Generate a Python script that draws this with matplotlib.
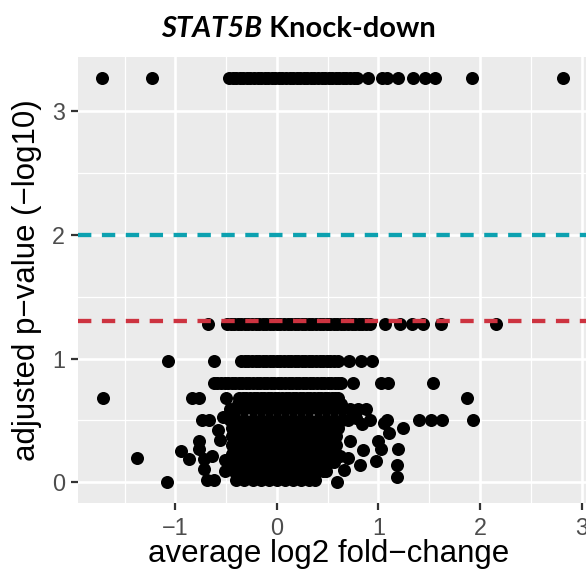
import numpy as np
import matplotlib
matplotlib.use("Agg")
import matplotlib.pyplot as plt

# genes that share an adjusted p-value (-log10) level, listed row by row
row_p = [3.27, 1.28, 0.98, 0.80, 0.68, 0.63, 0.59, 0.50, 0.44, 0.37, 0.30, 0.23, 0.16, 0.09, 0.02]
row_fc = [
    [-1.72, -1.23, -0.47, -0.435, -0.40, -0.365, -0.33, -0.295, -0.26, -0.225, -0.19, -0.155,
     -0.12, -0.085, -0.05, -0.015, 0.02, 0.055, 0.09, 0.125, 0.16, 0.195, 0.23, 0.265, 0.30,
     0.335, 0.37, 0.405, 0.44, 0.475, 0.51, 0.545, 0.58, 0.615, 0.65, 0.685, 0.72, 0.755, 0.79,
     0.90, 1.03, 1.08, 1.19, 1.34, 1.46, 1.56, 1.92, 2.82],
    [-0.675, -0.49, -0.455, -0.42, -0.385, -0.35, -0.315, -0.28, -0.245, -0.21, -0.175, -0.14,
     -0.105, -0.07, -0.035, 0.00, 0.035, 0.07, 0.105, 0.14, 0.175, 0.21, 0.245, 0.28, 0.315,
     0.35, 0.385, 0.42, 0.455, 0.49, 0.525, 0.56, 0.595, 0.63, 0.665, 0.70, 0.735, 0.77, 0.805,
     0.84, 0.88, 0.92, 1.06, 1.21, 1.33, 1.44, 1.62, 2.16],
    [-1.07, -0.62, -0.35, -0.315, -0.28, -0.245, -0.21, -0.175, -0.14, -0.105, -0.07, -0.035,
     0.00, 0.035, 0.07, 0.105, 0.14, 0.175, 0.21, 0.245, 0.28, 0.315, 0.35, 0.385, 0.42, 0.455,
     0.49, 0.525, 0.56, 0.60, 0.71, 0.83, 0.94],
    [-0.62, -0.585, -0.55, -0.515, -0.48, -0.445, -0.41, -0.375, -0.34, -0.305, -0.27, -0.235,
     -0.20, -0.165, -0.13, -0.095, -0.06, -0.025, 0.01, 0.045, 0.08, 0.115, 0.15, 0.185, 0.22,
     0.255, 0.29, 0.325, 0.36, 0.395, 0.43, 0.465, 0.50, 0.535, 0.57, 0.60, 0.63, 0.75, 1.02,
     1.09, 1.54],
    [-1.71, -0.84, -0.77, -0.50, -0.37, -0.335, -0.30, -0.265, -0.23, -0.195, -0.16, -0.125,
     -0.09, -0.055, -0.02, 0.015, 0.05, 0.085, 0.12, 0.155, 0.19, 0.225, 0.26, 0.295, 0.33,
     0.365, 0.40, 0.435, 0.47, 0.505, 0.54, 0.57, 0.60, 1.87],
    [-0.38, -0.30, -0.22, -0.14, -0.06, 0.02, 0.10, 0.18, 0.26, 0.34, 0.42, 0.50, 0.58, 0.63],
    [-0.46, -0.40, -0.32, -0.24, -0.16, -0.08, 0.00, 0.08, 0.16, 0.24, 0.32, 0.40, 0.48, 0.56,
     0.64, 0.72, 0.80, 0.88],
    [-0.74, -0.67, -0.46, -0.40, -0.32, -0.24, -0.16, -0.08, 0.00, 0.08, 0.16, 0.24, 0.32, 0.40,
     0.48, 0.56, 0.64, 0.92, 1.08, 1.40, 1.52, 1.63, 1.93],
    [-0.44, -0.36, -0.28, -0.20, -0.12, -0.04, 0.04, 0.12, 0.20, 0.28, 0.36, 0.44, 0.52, 0.60],
    [-0.44, -0.36, -0.28, -0.20, -0.12, -0.04, 0.04, 0.12, 0.20, 0.28, 0.36, 0.44, 0.52, 0.58],
    [-0.44, -0.36, -0.28, -0.20, -0.12, -0.04, 0.04, 0.12, 0.20, 0.28, 0.36, 0.44, 0.52, 0.58],
    [-0.44, -0.36, -0.28, -0.20, -0.12, -0.04, 0.04, 0.12, 0.20, 0.28, 0.36, 0.44, 0.52, 0.58],
    [-0.43, -0.35, -0.27, -0.19, -0.11, -0.03, 0.05, 0.13, 0.21, 0.29, 0.37, 0.45, 0.52, 0.56],
    [-0.42, -0.34, -0.26, -0.18, -0.10, -0.02, 0.06, 0.14, 0.22, 0.30, 0.38, 0.45, 0.48],
    [-0.40, -0.32, -0.24, -0.16, -0.08, 0.00, 0.08, 0.16, 0.24, 0.32, 0.38],
]

# scattered genes that sit off those rows
extra_fc = [-1.085, -1.38, -0.94, -0.87, -0.77, -0.77, -0.72, -0.72, -0.69, -0.62, -0.64, -0.58,
            -0.56, -0.51, -0.53, -0.51, 1.24, 1.10, 1.19, 1.18, 1.18, 1.00, 1.02, 0.98, 0.85,
            0.82, 0.72, 0.59, 0.62, 0.66, 0.70, 0.70, 0.78, 0.84, 1.05]
extra_p = [0.005, 0.196, 0.25, 0.19, 0.33, 0.27, 0.19, 0.11, 0.02, 0.02, 0.21, 0.42,
           0.34, 0.09, 0.53, 0.18, 0.44, 0.40, 0.27, 0.14, 0.045, 0.33, 0.27, 0.17, 0.26,
           0.14, 0.33, 0.005, 0.21, 0.10, 0.20, 0.50, 0.52, 0.47, 0.48]

# thresholds
line_fdr = 1.301   # -log10(0.05)
line_strict = 2.0  # -log10(0.01)

fc = []
p = []
for yv, xs in zip(row_p, row_fc):
    fc += xs
    p += [yv] * len(xs)
fc += extra_fc
p += extra_p

W, H = 586, 575
fig = plt.figure(figsize=(W / 100, H / 100), dpi=100)
ax = fig.add_axes([78.3 / W, 1 - 503.3 / H, 1 - 78.3 / W, (503.3 - 56.7) / H])
ax.set_facecolor("#EBEBEB")
for s in ax.spines.values():
    s.set_visible(False)

ax.scatter(fc, p, s=88, color="black", linewidths=0, zorder=3)
ax.axhline(line_strict, color="#0CA1B0", lw=3.1, ls=(0, (3.1, 2.45)), zorder=4)
ax.axhline(line_fdr, color="#CD3340", lw=3.1, ls=(0, (3.1, 2.45)), zorder=4)

ax.set_xlim(-1.955, 3.043)
ax.set_ylim(-0.170, 3.439)
ax.set_xticks([-1, 0, 1, 2, 3])
ax.set_yticks([0, 1, 2, 3])
ax.set_xticks([-1.5, -0.5, 0.5, 1.5, 2.5], minor=True)
ax.set_yticks([0.5, 1.5, 2.5], minor=True)
ax.grid(True, which="major", color="white", lw=1.9, zorder=0)
ax.grid(True, which="minor", color="white", lw=0.9, zorder=0)
ax.set_axisbelow(True)
ax.tick_params(which="major", length=5.3, width=1.6, color="#333333", pad=4.3,
               labelsize=16.8, labelcolor="#4D4D4D")
ax.tick_params(which="minor", length=0)
for lab in ax.get_xticklabels() + ax.get_yticklabels():
    lab.set_family("Liberation Sans")

fig.text(329 / W, 1 - 562 / H, "average log2 fold\u2212change", ha="center", va="baseline",
         fontsize=22.5, family="Liberation Sans", color="black")
fig.text(27 / W, 1 - 280 / H, "adjusted p\u2212value (\u2212log10)", ha="center", va="center",
         rotation=90, fontsize=22.5, family="Liberation Sans", color="black")

# title: italic gene name, then plain bold text
ty = 1 - 37 / H
t1 = fig.text(0, ty, "STAT5B", fontstyle="italic", fontweight="bold", family="Lato",
              fontsize=21, va="baseline")
t2 = fig.text(0, ty, " Knock-down", fontweight="bold", family="Lato", fontsize=21, va="baseline")
r = fig.canvas.get_renderer()
w1 = t1.get_window_extent(r).width
w2 = t2.get_window_extent(r).width
x0 = 298.5 - (w1 + w2) / 2
t1.set_x(x0 / W)
t2.set_x((x0 + w1) / W)

fig.savefig("out.png", dpi=100)
